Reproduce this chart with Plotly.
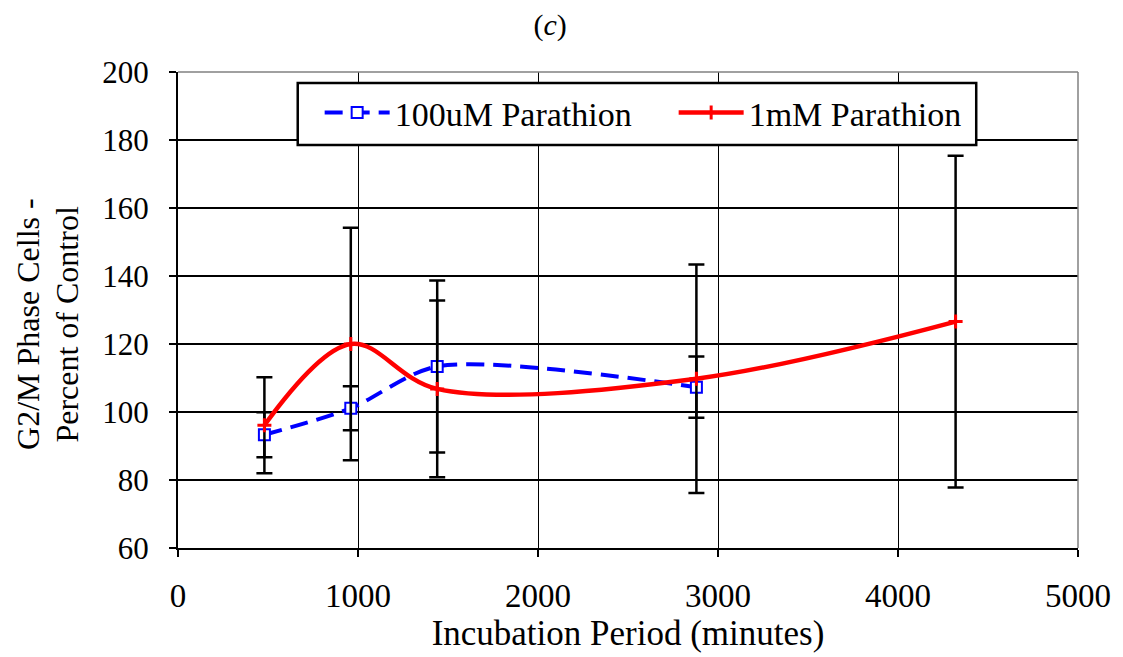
import plotly.graph_objects as go

# Data
times_100uM = [480, 960, 1440, 2880]
vals_100uM = [93.3, 101.1, 113.4, 107.3]
err_100uM = [6.6, 6.5, 25.3, 9.0]

times_1mM = [480, 960, 1440, 2880, 4320]
vals_1mM = [96.1, 120.0, 106.8, 109.8, 126.6]
err_1mM = [14.1, 34.2, 26.0, 33.6, 48.8]

x_ticks = [0, 1000, 2000, 3000, 4000, 5000]
y_ticks = [60, 80, 100, 120, 140, 160, 180, 200]

y_title_lines = ["G2/M Phase Cells -", "Percent of Control"]

FONT = "Liberation Serif, Times New Roman, serif"

fig = go.Figure()

fig.add_trace(go.Scatter(
    x=times_100uM, y=vals_100uM, name="100uM Parathion",
    mode="lines+markers",
    line=dict(color="#0000FF", width=4, dash="18px,9px", shape="spline", smoothing=0.8),
    marker=dict(symbol="square", size=11, color="white", line=dict(color="#0000FF", width=2)),
    error_y=dict(type="data", array=err_100uM, visible=True, color="black", thickness=2.5, width=8),
))

fig.add_trace(go.Scatter(
    x=times_1mM, y=vals_1mM, name="1mM Parathion",
    mode="lines+markers",
    line=dict(color="#FF0000", width=4.5, shape="spline", smoothing=1.0),
    marker=dict(symbol="cross-thin", size=10, color="#FF0000", line=dict(color="#FF0000", width=3)),
    error_y=dict(type="data", array=err_1mM, visible=True, color="black", thickness=2.5, width=8),
))

fig.update_layout(
    width=1123, height=657,
    margin=dict(l=178, r=43, t=72, b=109),
    paper_bgcolor="white", plot_bgcolor="white",
    font=dict(family=FONT, size=32, color="black"),
    title=dict(text="(<i>c</i>)", x=0.4135, xref="paper", xanchor="center",
               y=0.962, yref="container", yanchor="middle",
               font=dict(family=FONT, size=30, color="black")),
    showlegend=True,
    legend=dict(
        orientation="h", x=0.1574, y=0.914, xanchor="left", yanchor="middle",
        bgcolor="rgba(0,0,0,0)", borderwidth=0,
        font=dict(family=FONT, size=34, color="black"),
        itemwidth=65, entrywidth=274, entrywidthmode="pixels", tracegroupgap=0,
    ),
    xaxis=dict(
        range=[0, 5000], tickvals=x_ticks, ticktext=[str(v) for v in x_ticks],
        showgrid=True, gridcolor="black", gridwidth=1,
        showline=True, linecolor="black", linewidth=2,
        ticks="outside", ticklen=7, tickwidth=2, tickcolor="black",
        zeroline=False, ticklabelstandoff=10,
        title=dict(text="Incubation Period (minutes)", standoff=4,
                   font=dict(family=FONT, size=35)),
        tickfont=dict(family=FONT, size=33),
    ),
    yaxis=dict(
        range=[60, 200], tickvals=y_ticks, ticktext=[str(v) for v in y_ticks],
        showgrid=True, gridcolor="black", gridwidth=2,
        showline=True, linecolor="black", linewidth=2,
        ticks="outside", ticklen=7, tickwidth=2, tickcolor="black",
        zeroline=False, ticklabelstandoff=14,
        tickfont=dict(family=FONT, size=31),
    ),
    shapes=[
        dict(type="line", xref="paper", yref="paper", x0=0, x1=1, y0=1, y1=1,
             line=dict(color="#808080", width=1.5), layer="above"),
        dict(type="line", xref="paper", yref="paper", x0=1, x1=1, y0=0, y1=1,
             line=dict(color="#808080", width=1.5), layer="above"),
        # legend frame
        dict(type="rect", xref="paper", yref="paper",
             x0=(298 - 178) / 902, x1=(978 - 178) / 902,
             y0=(548 - 145) / 476, y1=(548 - 83) / 476,
             line=dict(color="black", width=2.5), fillcolor="white", layer="above"),
    ],
    annotations=[
        dict(text=y_title_lines[0], xref="paper", yref="paper", x=-0.166, y=0.47,
             xanchor="center", yanchor="middle", textangle=-90, showarrow=False,
             font=dict(family=FONT, size=32)),
        dict(text=y_title_lines[1], xref="paper", yref="paper", x=-0.123, y=0.47,
             xanchor="center", yanchor="middle", textangle=-90, showarrow=False,
             font=dict(family=FONT, size=32)),
    ],
)

fig.write_html("out.html")
